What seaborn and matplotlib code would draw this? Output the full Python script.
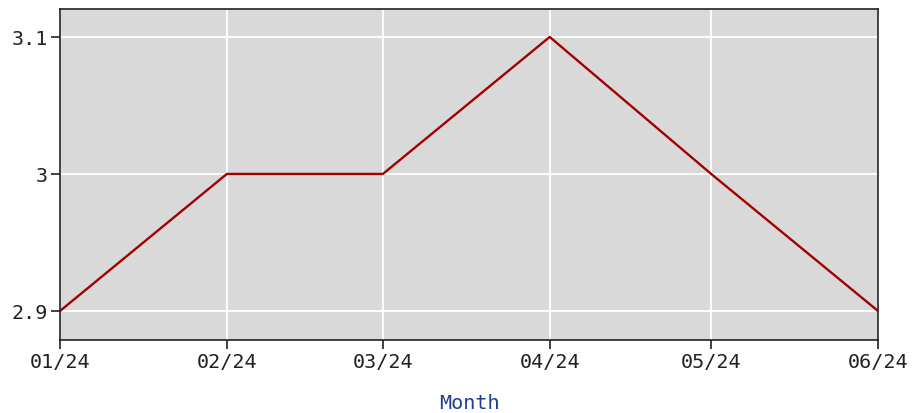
import pandas as pd
import numpy as np
import matplotlib
matplotlib.use('Agg')
import matplotlib.pyplot as plt
import seaborn as sns
from matplotlib.dates import DateFormatter, MonthLocator

# 数据
months = ['2024-01-01', '2024-02-01', '2024-03-01', '2024-04-01', '2024-05-01', '2024-06-01']
values = [2.9, 3.0, 3.0, 3.1, 3.0, 2.9]
y_ticks = [2.9, 3.0, 3.1]
y_tick_labels = ['2.9', '3', '3.1']

df = pd.DataFrame({'Month': pd.to_datetime(months), 'Value': values})

sns.set_style('white')
plt.rcParams['font.family'] = ['DejaVu Sans Mono', 'DejaVu Sans']

fig = plt.figure(figsize=(9.17, 4.14), dpi=100)
ax = fig.add_axes([60 / 917, 1 - 341 / 414, 818 / 917, 331 / 414])
ax.set_facecolor('#d9d9d9')

sns.lineplot(data=df, x='Month', y='Value', ax=ax, color='#a30000', linewidth=1.7)

ax.set_xlim(df['Month'].iloc[0], df['Month'].iloc[-1])
ax.set_ylim(2.8788, 3.1204)
ax.xaxis.set_major_locator(MonthLocator())
ax.xaxis.set_major_formatter(DateFormatter('%m/%y'))
ax.set_yticks(y_ticks)
ax.set_yticklabels(y_tick_labels)

ax.grid(True, color='white', linewidth=1.3)
ax.set_axisbelow(True)
for s in ax.spines.values():
    s.set_color('#222222')
    s.set_linewidth(1.2)

ax.tick_params(axis='both', direction='out', length=6.5, width=1.2, color='#222222',
               labelsize=14.5, labelcolor='#222222', left=True, bottom=True, pad=2)
ax.set_xlabel('Month', fontsize=14.5, color='#1f3f8f', labelpad=16)
ax.set_ylabel('')

fig.savefig('out.png', dpi=100, facecolor='white')
